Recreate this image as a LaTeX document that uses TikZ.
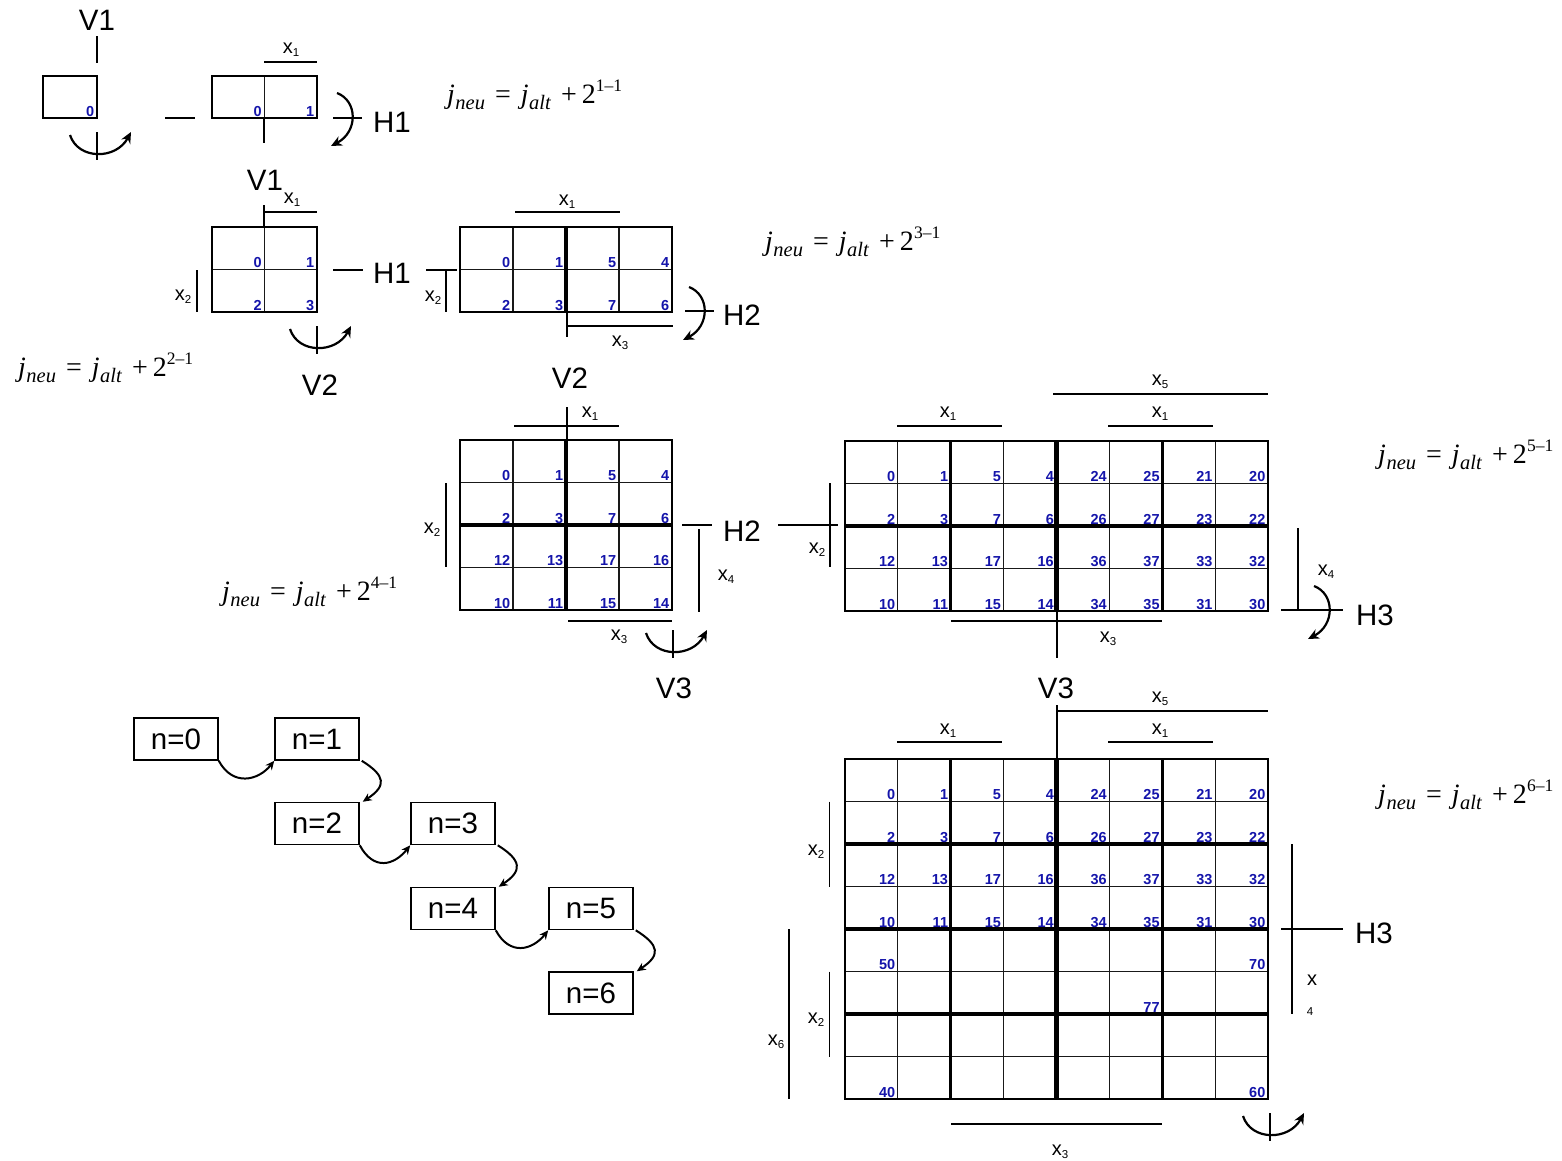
\documentclass[tikz,border=0pt]{standalone}
\usepackage{fontspec}
\setmainfont{Liberation Sans}
\newfontfamily\tnr{Liberation Serif}
\usetikzlibrary{arrows.meta}
\definecolor{numblue}{RGB}{20,20,170}

\tikzset{
  bar/.style={line width=1.8pt, black},
  gridline/.style={line width=1.1pt, black!90},
  gridframe/.style={line width=1.3pt, black},
  thk/.style={line width=3.3pt, black},
  thkk/.style={line width=4.6pt, black},
  num/.style={font=\fontsize{14.5}{14.5}\selectfont\bfseries, text=numblue, inner sep=0pt, anchor=south east},
  big/.style={font=\fontsize{29.5}{29.5}\selectfont, inner sep=0pt},
  lbl/.style={font=\fontsize{20}{20}\selectfont, inner sep=0pt, anchor=base},
  nbox/.style={draw, line width=1.5pt, minimum width=84pt, minimum height=42pt, font=\fontsize{29.5}{29.5}\selectfont, inner sep=0pt},
  rotarrow/.style={line width=2.2pt, -{Stealth[length=11pt,width=10pt]}},
  flow/.style={line width=2pt, -{Stealth[length=9pt,width=8pt]}},
  eqn/.style={anchor=base west, inner sep=0pt},
}

\newcommand\xs[1]{x\raisebox{-3.5pt}{\fontsize{11.5}{11.5}\selectfont #1}}
\newcommand\jeq[1]{{\tnr\fontsize{28}{28}\selectfont\textit{j}\kern0.5pt\raisebox{-6pt}{\fontsize{20.5}{20.5}\selectfont\textit{neu}}\hspace{10pt}=\hspace{10pt}\textit{j}\kern0.5pt\raisebox{-6pt}{\fontsize{20.5}{20.5}\selectfont\textit{alt}}\hspace{10pt}+\hspace{5pt}2\raisebox{12pt}{\fontsize{17.5}{17.5}\selectfont #1\textendash 1}}}

\newcommand\kgrid[6]{%
  \pgfmathsetmacro\kxe{#1+#3*#5}%
  \pgfmathsetmacro\kye{#2+#4*#6}%
  \foreach \k in {1,...,#5}{\draw[gridline] ({#1+\k*#3},#2) -- ({#1+\k*#3},\kye);}%
  \foreach \k in {1,...,#6}{\draw[gridline] (#1,{#2+\k*#4}) -- (\kxe,{#2+\k*#4});}%
  \draw[gridframe] (#1,#2) rectangle (\kxe,\kye);%
}
\newcommand\knums[7]{%
  \foreach \v [count=\i from 0] in {#7}{%
    \pgfmathtruncatemacro\kc{mod(\i,#5)}%
    \pgfmathtruncatemacro\kr{floor(\i/#5)}%
    \node[num] (#6-\i) at ({#1+(\kc+1)*#3-2.5},{#2+(\kr+1)*#4-1.5}) {\v};%
  }}
\newcommand\vrot[2]{%
  \draw[bar] (#1,{#2-14}) -- (#1,{#2+14});
  \draw[rotarrow] ({#1-27},{#2-11}) .. controls ({#1-19},{#2+14}) and ({#1+19},{#2+14}) .. ({#1+34},{#2-14});
}
\newcommand\hrotarc[2]{%
  \draw[rotarrow] ({#1-9},{#2-25}) .. controls ({#1+12},{#2-17}) and ({#1+12},{#2+14}) .. ({#1-15},{#2+28});
}

\begin{document}
\begin{tikzpicture}[x=1pt,y=-1pt]
\useasboundingbox (0,0) rectangle (1562,1160);

% ---------- row 1 ----------
\node[big] (V1a) at (97,20) {V1};
\draw[bar] (97,36) -- (97,63);
\kgrid{43}{76}{54}{42}{1}{1}
\knums{43}{76}{54}{42}{1}{A}{0}
\vrot{97}{146}
\draw[bar] (165,118) -- (195,118);
\kgrid{212}{76}{52.5}{42}{2}{1}
\knums{212}{76}{52.5}{42}{2}{B}{0,1}
\draw[bar] (264,62) -- (317,62);
\node[lbl] (lB1) at (291,53) {\xs{1}};
\draw[bar] (264,118) -- (264,143);
\draw[bar] (333,118) -- (362,118);
\hrotarc{346}{118}
\node[big] (H1a) at (392,122) {H1};
\node[eqn] (eq1) at (447,103) {\jeq{1}};

% ---------- row 2 ----------
\node[big] (V1b) at (265,180) {V1};
\kgrid{212}{227}{52.5}{42.5}{2}{2}
\knums{212}{227}{52.5}{42.5}{2}{C}{0,1,2,3}
\draw[bar] (264,205) -- (264,227);
\draw[bar] (264,212) -- (317,212);
\node[lbl] (lC1) at (292,203) {\xs{1}};
\draw[bar] (197,270) -- (197,312);
\node[lbl] (lC2) at (183,300) {\xs{2}};
\draw[bar] (333,270) -- (363,270);
\node[big] (H1b) at (392,273) {H1};
\vrot{317}{340}
\node[big] (V2a) at (320,385) {V2};
\node[eqn] (eq3) at (18,376) {\jeq{2}};

\draw[bar] (426,270) -- (457,270);
\draw[bar] (446,270) -- (446,312);
\node[lbl] (lD2) at (433,301) {\xs{2}};
\kgrid{460}{227}{53}{42.5}{4}{2}
\draw[thk] (566,227) -- (566,312);
\knums{460}{227}{53}{42.5}{4}{D}{0,1,5,4,2,3,7,6}
\draw[bar] (515,212) -- (620,212);
\node[lbl] (lD1) at (567,205) {\xs{1}};
\draw[bar] (567,312) -- (567,337);
\draw[bar] (567,326) -- (673,326);
\node[lbl] (lD3) at (620,346) {\xs{3}};
\draw[bar] (685,311) -- (714,311);
\hrotarc{698}{312}
\node[big] (H2a) at (742,315) {H2};
\node[eqn] (eq2) at (765,250) {\jeq{3}};

% ---------- row 3 : 4x4 ----------
\node[big] (V2b) at (570,378) {V2};
\kgrid{460}{440}{53}{42.5}{4}{4}
\draw[thk] (566,440) -- (566,610);
\draw[thk] (460,525) -- (672,525);
\knums{460}{440}{53}{42.5}{4}{E}{0,1,5,4,2,3,7,6,12,13,17,16,10,11,15,14}
\draw[bar] (567,407) -- (567,440);
\draw[bar] (514,426) -- (619,426);
\node[lbl] (lE1) at (590,417) {\xs{1}};
\draw[bar] (446,483) -- (446,567);
\node[lbl] (lE2) at (432,533) {\xs{2}};
\draw[bar] (682,525) -- (712,525);
\node[big] (H2b) at (742,531) {H2};
\draw[bar] (699,529) -- (699,612);
\node[lbl] (lE4) at (726,580) {\xs{4}};
\draw[bar] (568,621) -- (672,621);
\node[lbl] (lE3) at (619,640) {\xs{3}};
\vrot{673}{644}
\node[big] (V3a) at (674,688) {V3};
\node[eqn] (eq4) at (222,600) {\jeq{4}};

% ---------- row 3 : 8x4 ----------
\draw[bar] (778,525) -- (838,525);
\draw[bar] (830,483) -- (830,567);
\node[lbl] (lF2) at (817,553) {\xs{2}};
\kgrid{845}{441}{52.875}{42.5}{8}{4}
\draw[thk] (950.75,441) -- (950.75,611);
\draw[thk] (1162.25,441) -- (1162.25,611);
\draw[thk] (845,526) -- (1268,526);
\draw[thkk] (1056.5,441) -- (1056.5,611);
\knums{845}{441}{52.875}{42.5}{8}{F}{0,1,5,4,24,25,21,20,2,3,7,6,26,27,23,22,12,13,17,16,36,37,33,32,10,11,15,14,34,35,31,30}
\draw[bar] (1053,394) -- (1268,394);
\node[lbl] (lF5) at (1160,385) {\xs{5}};
\draw[bar] (897,426) -- (1002,426);
\node[lbl] (lF1a) at (948,417) {\xs{1}};
\draw[bar] (1108,426) -- (1213,426);
\node[lbl] (lF1b) at (1160,417) {\xs{1}};
\draw[bar] (951,621) -- (1162,621);
\draw[bar] (1057,611) -- (1057,658);
\node[lbl] (lF3) at (1108,642) {\xs{3}};
\draw[bar] (1298,528) -- (1298,610);
\draw[bar] (1281,610) -- (1343,610);
\node[lbl] (lF4) at (1326,575) {\xs{4}};
\hrotarc{1323}{611}
\node[big] (H3a) at (1375,615) {H3};
\node[eqn] (eq5) at (1378,463) {\jeq{5}};

% ---------- bottom : 8x8 ----------
\node[big] (V3b) at (1056,688) {V3};
\draw[bar] (1057,705) -- (1057,759);
\draw[bar] (1057,711) -- (1268,711);
\node[lbl] (lG5) at (1160,702) {\xs{5}};
\draw[bar] (897,742) -- (1002,742);
\node[lbl] (lG1a) at (948,734) {\xs{1}};
\draw[bar] (1108,742) -- (1213,742);
\node[lbl] (lG1b) at (1160,734) {\xs{1}};
\kgrid{845}{759}{52.875}{42.5}{8}{8}
\draw[thk] (950.75,759) -- (950.75,1099);
\draw[thk] (1162.25,759) -- (1162.25,1099);
\draw[thk] (845,844) -- (1268,844);
\draw[thk] (845,1014) -- (1268,1014);
\draw[thkk] (845,929) -- (1268,929);
\draw[thkk] (1056.5,759) -- (1056.5,1099);
\knums{845}{759}{52.875}{42.5}{8}{G}{0,1,5,4,24,25,21,20,2,3,7,6,26,27,23,22,12,13,17,16,36,37,33,32,10,11,15,14,34,35,31,30}
\node[num] (G50) at (895.4,969.5) {50};
\node[num] (G70) at (1265.5,969.5) {70};
\node[num] (G77) at (1159.8,1012.5) {77};
\node[num] (G40) at (895.4,1097.5) {40};
\node[num] (G60) at (1265.5,1097.5) {60};
\draw[bar] (829.5,801.5) -- (829.5,886.5);
\node[lbl] (lG2a) at (816,855) {\xs{2}};
\draw[bar] (829.5,971.5) -- (829.5,1056.5);
\node[lbl] (lG2b) at (816,1023) {\xs{2}};
\draw[bar] (789,929) -- (789,1099);
\node[lbl] (lG6) at (776,1045) {\xs{6}};
\draw[bar] (951,1124) -- (1162,1124);
\node[lbl] (lG3) at (1060,1155) {\xs{3}};
\vrot{1270}{1127}
\draw[bar] (1292,844) -- (1292,1014);
\draw[bar] (1281,929) -- (1343,929);
\node[big] (H3b) at (1374,933) {H3};
\node[lbl] (lGx) at (1312,985) {x};
\node[lbl, font=\fontsize{11.5}{11.5}\selectfont] (lG4) at (1310,1015) {4};
\node[eqn] (eq6) at (1378,803) {\jeq{6}};

% ---------- n boxes ----------
\node[nbox] (n0) at (176,739) {n=0};
\node[nbox] (n1) at (317,739) {n=1};
\node[nbox] (n2) at (317,823.5) {n=2};
\node[nbox] (n3) at (453,823.5) {n=3};
\node[nbox] (n4) at (453,908.5) {n=4};
\node[nbox] (n5) at (591,908.5) {n=5};
\node[nbox] (n6) at (591,993) {n=6};
\draw[flow] (n0.south east) .. controls +(14,26) and +(-16,20) .. (n1.south west);
\draw[flow] (n2.south east) .. controls +(14,26) and +(-16,20) .. (n3.south west);
\draw[flow] (n4.south east) .. controls +(14,26) and +(-16,20) .. (n5.south west);
\draw[flow] ([xshift=2pt]n1.south east) .. controls +(24,15) and +(24,-16) .. ([xshift=3pt]n2.north east);
\draw[flow] ([xshift=2pt]n3.south east) .. controls +(24,15) and +(24,-16) .. ([xshift=3pt]n4.north east);
\draw[flow] ([xshift=2pt]n5.south east) .. controls +(24,15) and +(24,-16) .. ([xshift=3pt]n6.north east);
\end{tikzpicture}
\end{document}
